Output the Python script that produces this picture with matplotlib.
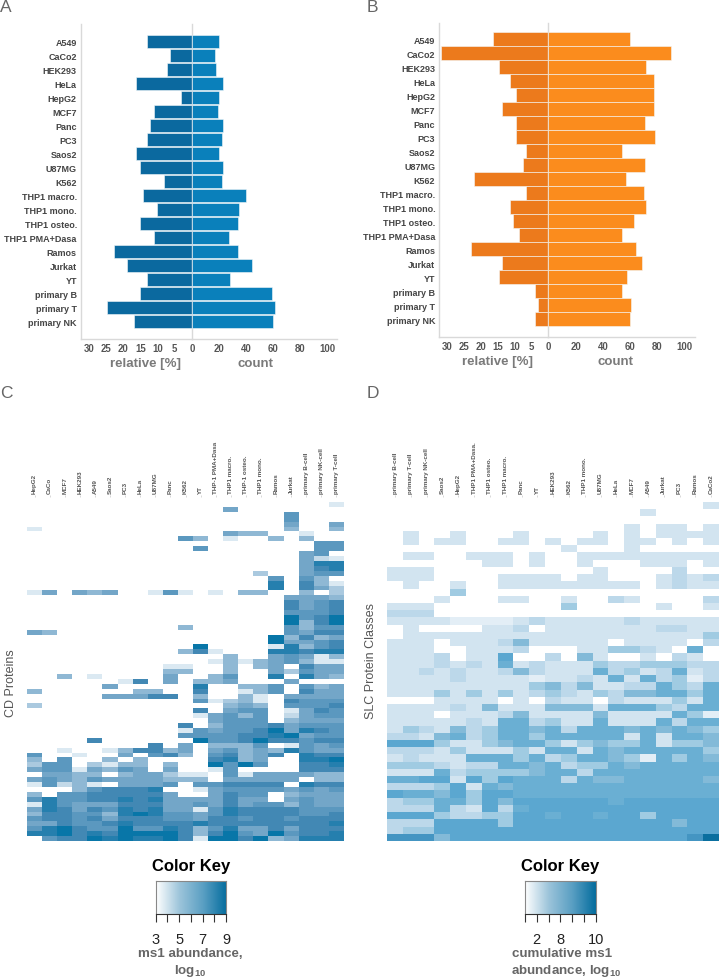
import numpy as np
import matplotlib
matplotlib.use("Agg")
import matplotlib.pyplot as plt
from matplotlib.colors import LinearSegmentedColormap

plt.rcParams['font.family'] = ['Liberation Sans', 'DejaVu Sans']
plt.rcParams['mathtext.fontset'] = 'custom'
plt.rcParams['mathtext.bf'] = 'Liberation Sans:bold'
plt.rcParams['mathtext.rm'] = 'Liberation Sans'

W, H = 719, 978

cell_lines = ['A549', 'CaCo2', 'HEK293', 'HeLa', 'HepG2', 'MCF7', 'Panc', 'PC3', 'Saos2', 'U87MG', 'K562',
              'THP1 macro.', 'THP1 mono.', 'THP1 osteo.', 'THP1 PMA+Dasa', 'Ramos', 'Jurkat', 'YT',
              'primary B', 'primary T', 'primary NK']

a_relative = [13.2, 6.3, 7.3, 16.2, 3.3, 11.2, 12.2, 13.2, 16.2, 15.2, 8.2, 14.2, 10.2, 15.2, 11.2, 22.8, 19, 13.2, 15.2, 24.8, 17]
a_count = [20, 17, 18, 23, 20, 19, 23, 22, 20, 23, 22, 40, 35, 34, 27, 34, 44, 28, 59, 61, 60]
b_relative = [16.3, 31.7, 14.5, 11.5, 9.6, 13.6, 9.6, 9.6, 6.7, 7.5, 22, 6.6, 11.5, 10.5, 8.7, 23, 13.6, 14.6, 4, 3, 3.9]
b_count = [60, 90, 72, 77.5, 77.5, 77.5, 71, 78, 54, 71, 57, 70, 72, 63, 54, 64, 69, 58, 54, 61, 60]

c_columns = ['HepG2', 'CaCo', 'MCF7', 'HEK293', 'A549', 'Saos2', 'PC3', 'HeLa', 'U87MG', 'Panc', 'K562', 'YT',
             'THP-1 PMA+Dasa', 'THP1 macro.', 'THP-1 osteo.', 'THP1 mono.', 'Ramos', 'Jurkat',
             'primary B-cell', 'primary NK-cell', 'primary T-cell']
d_columns = ['primary B-cell', 'primary T-cell', 'primary NK-cell', 'Saos2', 'HepG2', 'THP1 PMA+Dasa.', 'THP1 osteo.',
             'THP1 macro.', 'Panc', 'YT', 'HEK293', 'K562', 'THP1 mono.', 'U87MG', 'HeLa', 'MCF7', 'A549', 'Jurkat',
             'PC3', 'Ramos', 'CaCo2']

# one string per heatmap row, '.' = not detected, digits = colour level
c_rows = [
    "....................1", ".............5", ".................6", ".................6",
    ".................5..5", "1................4..4", ".............544..1..", "..........64.1..4.4..",
    "...................66", "...........6.......66", "..................56.", "..................521",
    "..................588", "..................578", "...............3..566", "................6.64.",
    "................8.741", "................8.753", "15.545..161.1.44..4.3", ".................5554",
    ".................7567", ".................7567", ".................6667", ".................9679",
    ".................9479", "..........4......6466", "54...............6577", "................94745",
    "................95567", "...........9....18467", "..........471...88788", ".............4..56514",
    "............141456411", ".........11..4.45.755", ".........44..4..53655", "..4.1....5..46..8.854",
    "......17.5.445...5...", ".....5.....8..446.645", "4......44..7..146.755", ".....55577.4..41.5555",
    "...........61341.7666", "3............454.6667", "...........7.566.1576", "...........15646.2566",
    "............5666.4555", "..........7.466675666", "..........16566795876", "..........66667789566",
    "....7......9667977677", "........7.5.4446.1656", "..1..147745.564548655", "6..1..5.674.67457.877",
    "4.6..4.4....7845..889", "366.3144.4..9696..778", "56615465.5..16....777", ".5544.455311.61555544",
    "565465555444.55555.44", "16241.5556.667777.877", "...467778..1566665656", "4.66777775..5766.4555",
    "6866778785555755.5655", "186555777556575664655", "587576878551687777666", "477664898665687777667",
    "677675777665776776777", "557667877778777777778", "689766966874685575777", "889787999974796596778",
    ".67798988971997945888",
]
d_rows = [
    "....................2", "................2", "", "...............2.22.2",
    ".2..2...2....2.2.2222", ".2.22..22.2.22.22.2.2", "...........2...2", ".22..222.2..222222222",
    "......22.2..2...222.2", "222..........2....3..", "222....2222.22...2323", ".2..2..222222222.2322",
    "....4", "...2...22..2..32....3", "222........4.....2..2", "333",
    "222211112322222322222", ".2....223.22222223322", ".22222222222222222224", "222.2223522222.2222.3",
    "222..2223...224432.6.", "2223.227..3.52..2.32.", "222323262322243344433", "223232235322263423623",
    "222232222122326263413", "222222222453522336436", "222424242343243556646", "...2222.2.322.3222426",
    "222232522255526664366", "222.22235222252222641", "222223266342262226366", "243253466563666565654",
    "332563466466666262665", "777422456642454462445", "333242224266265666664", "232226664634665416465",
    "444323366563446566666", "222634444566366666666", "667727476663655666665", "333472656666666666666",
    "766574776666666666666", "344664757777776777777", "333632736777777777777", "777433447767767747777",
    "333777747777777777577", "344777777777777777777", "888577777777777777789",
]

c_key_ticks = [3, 4, 5, 6, 7, 8, 9]
c_key_labels = ['3', '', '5', '', '7', '', '9']
d_key_ticks = [0, 1, 2, 3, 4, 5, 6]
d_key_labels = ['', '2', '', '8', '', '', '10']

GREY = '#d9d9d9'
LABEL = '#444444'
AXLAB = '#7a7a7a'


def px_axes(fig, left, top, right, bottom):
    return fig.add_axes([left / W, 1 - bottom / H, (right - left) / W, (bottom - top) / H])


def rows_to_array(rows):
    out = []
    for r in rows:
        r = r.ljust(21, '.')[:21]
        out.append([0 if ch == '.' else int(ch) for ch in r])
    return np.array(out)


def pyramid(fig, relative, count, left, mid, right, top, bottom, row0, step, rel_px, cnt_px, col_l, col_r, lab_l, lab_r):
    ax_l = px_axes(fig, left, top, mid, bottom)
    ax_r = px_axes(fig, mid, top, right, bottom)
    y = np.arange(len(cell_lines))
    ylim = ((bottom - row0) / step, -(row0 - top) / step)
    ax_l.barh(y, relative, height=0.93, color=col_l, edgecolor='#f4f8fa', linewidth=0.4, zorder=3)
    ax_r.barh(y, count, height=0.93, color=col_r, edgecolor='#f4f8fa', linewidth=0.4, zorder=3)
    ax_l.set_xlim((mid - left) / rel_px, 0)
    ax_r.set_xlim(0, (right - mid) / cnt_px)
    for ax in (ax_l, ax_r):
        ax.set_ylim(*ylim)
        ax.patch.set_alpha(0)
        for s in ax.spines.values():
            s.set_color(GREY)
            s.set_linewidth(1.0)
        ax.spines['top'].set_visible(False)
        ax.spines['right'].set_visible(False)
        ax.tick_params(axis='x', length=0, pad=3, labelsize=6.9, labelcolor='#555555')
    ax_l.set_xticks([30, 25, 20, 15, 10, 5])
    ax_r.set_xticks([0, 20, 40, 60, 80, 100])
    ax_l.set_yticks(y)
    ax_l.set_yticklabels(cell_lines, fontsize=6.5, fontweight='bold', color=LABEL)
    ax_l.tick_params(axis='y', length=0, pad=3)
    ax_r.set_yticks([])
    for lab in ax_l.get_xticklabels() + ax_r.get_xticklabels():
        lab.set_fontweight('bold')
    ax_l.set_xlabel('relative [%]', fontsize=9.5, fontweight='bold', color=AXLAB)
    ax_r.set_xlabel('count', fontsize=9.5, fontweight='bold', color=AXLAB)
    ax_l.xaxis.set_label_coords(lab_l, -0.058)
    ax_r.xaxis.set_label_coords(lab_r, -0.058)


def heat(fig, rows, columns, left, right, cmap, ylabel, ylab_x, ylab_y):
    data = rows_to_array(rows)
    n = len(data)
    step = (841.7 - 503.5) / n
    ax = px_axes(fig, left, 497.5, right, 841.7)
    ax.imshow(data, cmap=cmap, vmin=0, vmax=9, aspect='auto', interpolation='nearest')
    ax.set_ylim(n - 0.5, -0.5 - 6.0 / step)
    ax.xaxis.tick_top()
    ax.set_xticks(range(len(columns)))
    ax.set_xticklabels(columns, rotation=90, fontsize=4.5, fontweight='bold', color='#555555')
    ax.tick_params(axis='x', length=1.2, width=0.4, color='#bbbbbb', pad=1.2)
    ax.set_yticks([])
    for s in ax.spines.values():
        s.set_visible(False)
    fig.text(ylab_x / W, 1 - ylab_y / H, ylabel, rotation=90, ha='center', va='center',
             fontsize=9, color='#555555')


def color_key(fig, left, right, ticks, labels, text_lines, cmap):
    fig.text((left + right) / 2 / W, 1 - 866.5 / H, 'Color Key', ha='center', va='center',
             fontsize=12, fontweight='bold', color='black')
    ax = px_axes(fig, left, 881.7, right, 915)
    grad = np.linspace(0, 1, 200).reshape(1, -1)
    ax.imshow(grad, cmap=cmap, aspect='auto', extent=[ticks[0], ticks[-1], 0, 1])
    ax.set_yticks([])
    ax.set_xticks(ticks)
    ax.set_xticklabels(labels, fontsize=10.5, color='#222222')
    ax.tick_params(axis='x', length=6, width=0.8, color='#333333', pad=7)
    for s in ax.spines.values():
        s.set_color('#888888')
        s.set_linewidth(0.8)
    ax.spines['bottom'].set_color('#333333')
    for (cx, y, txt) in text_lines:
        fig.text(cx / W, 1 - y / H, txt, ha='center', va='center', fontsize=9.6,
                 fontweight='bold', color='#666666')


fig = plt.figure(figsize=(W / 100, H / 100), dpi=100)

pyramid(fig, a_relative, a_count, 81, 192, 337, 25, 340, 42.3, 14.02, 3.43, 1.353, '#0b699f', '#0a80bb', 0.577, 0.44)
pyramid(fig, b_relative, b_count, 439.3, 548.3, 695, 24, 338, 40, 14.0, 3.37, 1.363, '#ec7a1c', '#fb8c1d', 0.53, 0.456)

cmap_c = LinearSegmentedColormap.from_list('c', [(0, '#ffffff'), (1 / 9, '#dbe9f2'), (3 / 9, '#aac9df'),
                                                 (5 / 9, '#74a7c9'), (7 / 9, '#4389b5'), (1, '#0876a8')])
cmap_d = LinearSegmentedColormap.from_list('d', [(0, '#ffffff'), (1 / 9, '#e3eef6'), (2 / 9, '#d2e4f0'),
                                                 (3 / 9, '#bcd8ea'), (4 / 9, '#a0cbe2'), (5 / 9, '#84bbd9'),
                                                 (6 / 9, '#6aafd3'), (7 / 9, '#5ca8d1'), (8 / 9, '#4596c3'),
                                                 (1, '#0a6f9f')])
cmap_key = LinearSegmentedColormap.from_list('key', ['#ffffff', '#9cc4da', '#5a9fc3', '#046d9e'])

heat(fig, c_rows, c_columns, 27, 344, cmap_c, 'CD Proteins', 11, 683)
heat(fig, d_rows, d_columns, 387.3, 719, cmap_d, 'SLC Protein Classes', 371, 661)

color_key(fig, 155.7, 226, c_key_ticks, c_key_labels,
          [(190, 954, 'ms1 abundance,'), (190, 971, r'log$\mathbf{_{10}}$')], cmap_key)
color_key(fig, 525, 595.7, d_key_ticks, d_key_labels,
          [(562, 954, 'cumulative ms1'), (566, 971, r'abundance, log$\mathbf{_{10}}$')], cmap_key)

for letter, x, y in [('A', 6, 8), ('B', 372, 7), ('C', 6, 394), ('D', 373, 394)]:
    fig.text(x / W, 1 - y / H, letter, ha='center', va='center', fontsize=12.5, color='#666666')

fig.savefig('out.png', dpi=100)
